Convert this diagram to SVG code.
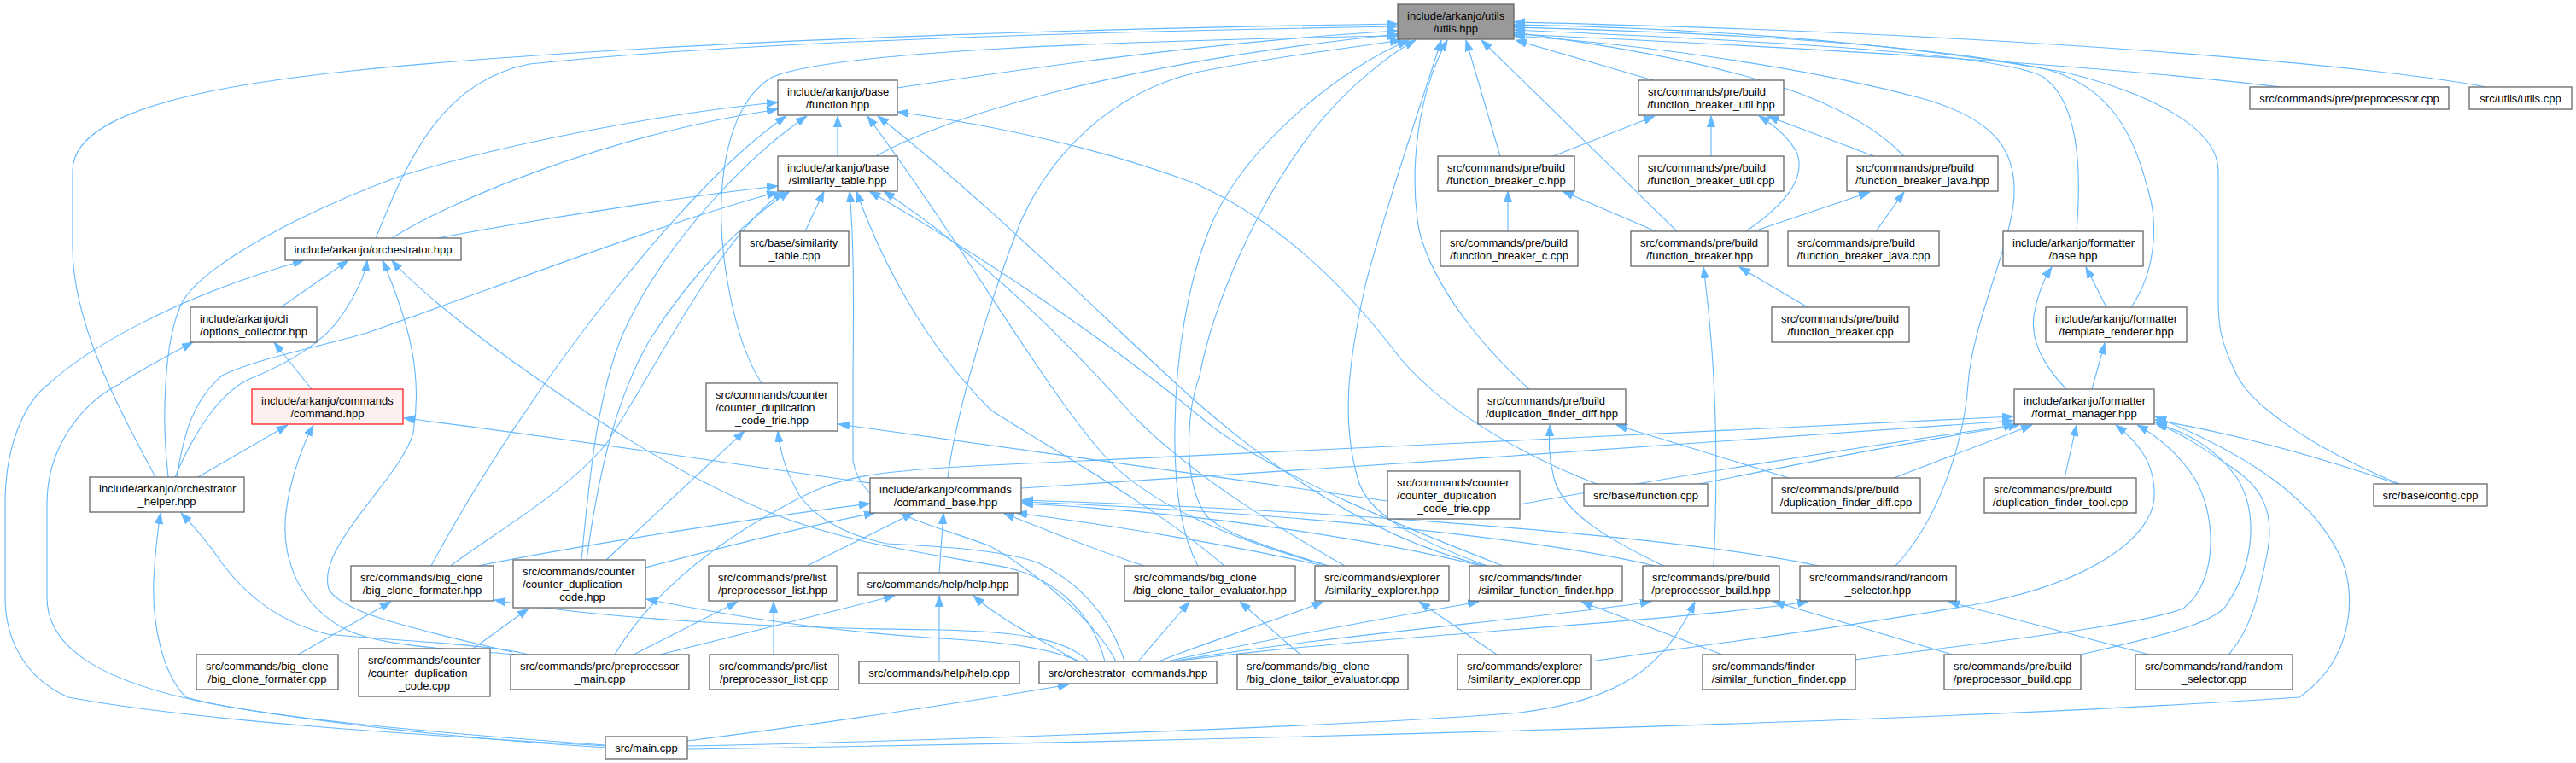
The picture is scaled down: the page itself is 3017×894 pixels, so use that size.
<svg xmlns="http://www.w3.org/2000/svg" width="3017" height="894" viewBox="0 0 3017 894">
<style>
.n rect{fill:#ffffff;stroke:#666666;stroke-width:1.3}
.n.hl rect{fill:#999999}
.n.red rect{fill:#fff0f0;stroke:#ff2020}
.n text{font-family:"Liberation Sans",Arial,Helvetica,sans-serif;font-size:13px;fill:#000000}
.n text.m{text-anchor:middle}
#edges path{fill:none;stroke:#63b8ff;stroke-width:1.1;marker-end:url(#a)}
</style>
<defs>
<marker id="a" markerUnits="userSpaceOnUse" markerWidth="14" markerHeight="10" refX="13" refY="4.7" orient="auto">
<path d="M0,0 L13,4.7 L0,9.4 z" fill="#63b8ff" stroke="#63b8ff" stroke-width="0.8"/>
</marker>
</defs>
<rect x="0" y="0" width="3017" height="894" fill="#ffffff"/>
<g id="edges">
<path d="M1051,103 C1150,88 1400,50 1637,36"/>
<path d="M1026,183 C1100,140 1300,75 1637,40"/>
<path d="M440,279 C480,180 520,95 620,75 C900,45 1400,35 1637,31"/>
<path d="M182,559 C140,480 85,380 85,290 L85,200 C85,110 350,85 600,67 C900,45 1300,33 1637,28"/>
<path d="M892,449 C860,400 842,300 845,233 C848,160 870,110 905,90 C980,60 1300,48 1637,42"/>
<path d="M1110,560 C1120,480 1160,350 1194,263 C1230,180 1300,110 1400,85 C1500,65 1590,55 1641,47"/>
<path d="M1403,663 C1380,620 1375,560 1376,500 C1377,420 1390,330 1420,260 C1460,170 1570,80 1650,47"/>
<path d="M1556,663 C1480,640 1420,620 1410,600 C1385,560 1390,480 1405,440 C1420,360 1470,240 1540,150 C1580,100 1630,62 1658,47"/>
<path d="M1742,663 C1650,630 1600,600 1590,560 C1570,490 1580,420 1600,330 C1630,220 1665,120 1688,47"/>
<path d="M1791,456 C1740,410 1680,340 1662,270 C1650,200 1660,110 1695,47"/>
<path d="M1757,183 L1717,47"/>
<path d="M1964,271 L1735,47"/>
<path d="M1936,94 L1775,47"/>
<path d="M2230,183 C2170,120 2050,75 1773,38"/>
<path d="M2432,271 C2438,200 2435,120 2393,90 C2340,60 2000,45 1773,35"/>
<path d="M2496,360 C2530,310 2525,250 2515,220 C2495,140 2460,100 2400,82 C2250,50 2000,38 1773,32"/>
<path d="M2810,567 C2720,530 2640,480 2620,440 C2600,400 2598,380 2598,350 L2598,200 C2598,150 2520,110 2420,85 C2200,45 1950,32 1773,29"/>
<path d="M2220,663 C2270,610 2300,520 2305,450 C2310,380 2350,300 2358,240 C2365,180 2340,140 2250,115 C2100,75 1900,50 1773,42"/>
<path d="M2672,102 C2450,75 2100,55 1773,40"/>
<path d="M2912,102 C2800,80 2400,40 1773,26"/>
<path d="M197,559 C190,500 190,400 214,353 C240,310 350,250 467,207 C600,165 800,130 911,120"/>
<path d="M459,279 C520,240 700,160 911,128"/>
<path d="M981,183 L981,136"/>
<path d="M505,663 C560,560 640,440 720,340 C800,240 870,170 921,136"/>
<path d="M681,656 C690,560 700,460 730,390 C780,280 880,180 945,136"/>
<path d="M1556,663 C1450,635 1340,590 1290,530 C1220,450 1130,290 1016,136"/>
<path d="M1740,663 C1600,630 1480,540 1400,470 C1300,380 1150,230 1028,136"/>
<path d="M1870,567 C1800,540 1700,490 1640,420 C1580,340 1500,260 1400,215 C1280,170 1150,145 1051,131"/>
<path d="M513,279 C600,262 800,230 911,218"/>
<path d="M207,559 C215,510 225,470 260,440 C300,420 380,405 430,390 C600,330 780,260 911,225"/>
<path d="M205,559 C230,500 260,460 290,445 C340,425 380,400 400,370 C420,340 428,320 430,305"/>
<path d="M687,656 C700,560 720,470 760,400 C810,320 870,260 925,224"/>
<path d="M528,663 C570,630 660,580 710,520 C770,430 840,280 918,224"/>
<path d="M943,271 L965,224"/>
<path d="M1307,775 C1290,740 1230,680 1160,640 C1080,610 1010,600 999,540 L999,440 C1000,350 1000,280 995,224"/>
<path d="M1434,663 C1350,590 1220,520 1160,480 C1080,400 1030,300 1003,224"/>
<path d="M1575,663 C1500,620 1400,560 1330,490 C1250,400 1150,300 1035,224"/>
<path d="M1760,663 C1650,620 1500,560 1420,500 C1300,400 1150,300 1018,224"/>
<path d="M709,874 C500,862 230,845 80,817 C30,795 6,750 6,700 L6,590 C6,520 30,470 57,450 C100,410 200,350 356,305"/>
<path d="M329,360 L408,305"/>
<path d="M600,764 C500,740 400,720 385,690 C370,640 470,560 484,507 C495,440 480,380 448,305"/>
<path d="M1294,775 C1280,720 1240,680 1180,665 C1100,650 1000,640 900,600 C780,550 680,480 600,423 C540,380 480,330 459,305"/>
<path d="M365,456 L321,401"/>
<path d="M709,876 C550,866 380,848 250,825 C120,800 55,760 55,700 L55,590 C55,520 100,470 140,450 C170,430 200,415 226,401"/>
<path d="M232,559 L337,498"/>
<path d="M605,767 C520,760 440,757 400,735 C340,700 330,640 335,600 C340,560 355,520 367,498"/>
<path d="M1019,566 C800,535 600,505 473,490"/>
<path d="M709,873 C500,858 300,840 218,817 C190,790 178,730 180,680 C182,640 185,620 188,601"/>
<path d="M618,767 C580,755 450,750 383,743 C330,730 290,700 260,660 C240,630 225,615 212,601"/>
<path d="M710,656 L872,505"/>
<path d="M1317,775 C1300,720 1260,680 1217,660 C1180,645 1100,640 1039,637 C980,625 950,600 936,580 C925,560 915,540 911,505"/>
<path d="M1625,587 C1400,555 1150,520 982,497"/>
<path d="M560,663 C700,635 900,605 1019,590"/>
<path d="M756,665 C850,640 950,615 1025,601"/>
<path d="M945,663 L1070,601"/>
<path d="M1100,671 L1105,601"/>
<path d="M1340,663 C1270,640 1210,615 1175,601"/>
<path d="M1550,663 C1450,640 1300,615 1190,601"/>
<path d="M1735,663 C1600,630 1400,600 1197,590"/>
<path d="M1938,663 C1800,630 1500,600 1197,588"/>
<path d="M2130,663 C1950,625 1500,595 1197,586"/>
<path d="M349,767 L458,705"/>
<path d="M1275,775 C1250,750 1200,740 1100,738 C900,736 700,725 579,703"/>
<path d="M554,760 L619,713"/>
<path d="M1265,775 C1230,760 1180,752 1100,748 C950,738 850,720 757,702"/>
<path d="M742,767 L864,705"/>
<path d="M906,767 L906,705"/>
<path d="M1100,775 L1100,698"/>
<path d="M773,767 C880,740 980,715 1048,698"/>
<path d="M1262,775 C1220,750 1170,725 1140,698"/>
<path d="M1523,767 L1452,705"/>
<path d="M1333,775 L1393,705"/>
<path d="M1753,767 L1662,705"/>
<path d="M1357,775 C1420,750 1500,725 1550,705"/>
<path d="M2017,767 L1852,705"/>
<path d="M1367,775 C1500,745 1650,720 1732,705"/>
<path d="M2287,767 L2077,705"/>
<path d="M1372,775 C1550,745 1800,725 1934,705"/>
<path d="M805,874 C1100,868 1600,850 1780,835 C1900,820 1950,780 1985,705"/>
<path d="M2517,767 L2282,705"/>
<path d="M1375,775 C1600,745 1950,730 2118,705"/>
<path d="M805,868 C950,850 1150,820 1252,802"/>
<path d="M1948,663 C1880,630 1830,600 1820,560 C1812,530 1815,510 1815,498"/>
<path d="M2095,560 L1893,498"/>
<path d="M2007,663 C2012,560 2012,440 1995,313"/>
<path d="M2117,360 L2037,313"/>
<path d="M1766,271 L1766,224"/>
<path d="M1939,271 L1830,224"/>
<path d="M1819,183 L1938,136"/>
<path d="M2004,183 L2004,136"/>
<path d="M2195,183 L2070,136"/>
<path d="M2045,271 C2090,240 2115,210 2105,180 C2095,160 2075,145 2060,136"/>
<path d="M2197,271 L2230,225"/>
<path d="M2054,271 L2190,225"/>
<path d="M2420,456 C2395,430 2378,400 2382,370 C2386,345 2395,325 2403,313"/>
<path d="M2467,360 L2443,313"/>
<path d="M2450,456 L2465,402"/>
<path d="M720,767 C760,700 830,640 924,590 C980,560 1010,552 1160,545 C1500,530 2100,500 2358,488"/>
<path d="M1196,572 C1500,555 2100,510 2358,493"/>
<path d="M1780,591 C1950,560 2200,520 2360,498"/>
<path d="M1990,567 C2100,545 2250,515 2365,498"/>
<path d="M2218,560 L2380,498"/>
<path d="M2418,560 L2432,498"/>
<path d="M1863,775 C2000,755 2200,730 2330,705 C2450,680 2520,630 2523,583 C2525,540 2500,515 2478,498"/>
<path d="M2173,773 C2300,755 2500,735 2557,713 C2600,680 2595,600 2570,560 C2550,530 2525,510 2503,498"/>
<path d="M2437,767 C2530,745 2600,730 2610,705 C2640,660 2645,600 2620,560 C2595,525 2560,505 2525,497"/>
<path d="M2610,767 C2635,740 2645,700 2655,650 C2665,600 2650,570 2610,545 C2580,525 2555,508 2524,495"/>
<path d="M805,878 C1300,870 2200,850 2693,817 C2760,770 2760,690 2740,650 C2710,590 2650,540 2524,488"/>
<path d="M2808,567 C2700,530 2600,505 2524,492"/>
</g>
<g id="n_utils" class="n hl"><rect x="1637" y="5" width="136" height="41"/><text x="1648" y="22.5">include/arkanjo/utils</text><text class="m" x="1705" y="37.5">/utils.hpp</text></g>
<g id="n_function" class="n"><rect x="911" y="94" width="140" height="41"/><text x="922" y="111.5">include/arkanjo/base</text><text class="m" x="981" y="126.5">/function.hpp</text></g>
<g id="n_simtab" class="n"><rect x="911" y="183" width="140" height="41"/><text x="922" y="200.5">include/arkanjo/base</text><text class="m" x="981" y="215.5">/similarity_table.hpp</text></g>
<g id="n_simtab_cpp" class="n"><rect x="867" y="271" width="127" height="41"/><text x="878" y="288.5">src/base/similarity</text><text class="m" x="930.5" y="303.5">_table.cpp</text></g>
<g id="n_orch" class="n"><rect x="334" y="279" width="206" height="26"/><text class="m" x="437" y="296.5">include/arkanjo/orchestrator.hpp</text></g>
<g id="n_opts" class="n"><rect x="223" y="360" width="148" height="41"/><text x="234" y="377.5">include/arkanjo/cli</text><text class="m" x="297" y="392.5">/options_collector.hpp</text></g>
<g id="n_command" class="n red"><rect x="295" y="456" width="177" height="41"/><text x="306" y="473.5">include/arkanjo/commands</text><text class="m" x="383.5" y="488.5">/command.hpp</text></g>
<g id="n_orch_helper" class="n"><rect x="105" y="559" width="181" height="41"/><text x="116" y="576.5">include/arkanjo/orchestrator</text><text class="m" x="195.5" y="591.5">_helper.hpp</text></g>
<g id="n_bcf_hpp" class="n"><rect x="411" y="663" width="167" height="41"/><text x="422" y="680.5">src/commands/big_clone</text><text class="m" x="494.5" y="695.5">/big_clone_formater.hpp</text></g>
<g id="n_bcf_cpp" class="n"><rect x="230" y="767" width="166" height="41"/><text x="241" y="784.5">src/commands/big_clone</text><text class="m" x="313" y="799.5">/big_clone_formater.cpp</text></g>
<g id="n_cdc_cpp" class="n"><rect x="420" y="760" width="154" height="56"/><text x="431" y="777.5">src/commands/counter</text><text x="431" y="792.5">/counter_duplication</text><text class="m" x="497" y="807.5">_code.cpp</text></g>
<g id="n_trie_hpp" class="n"><rect x="827" y="449" width="154" height="56"/><text x="838" y="466.5">src/commands/counter</text><text x="838" y="481.5">/counter_duplication</text><text class="m" x="904" y="496.5">_code_trie.hpp</text></g>
<g id="n_cmdbase" class="n"><rect x="1019" y="560" width="177" height="41"/><text x="1030" y="577.5">include/arkanjo/commands</text><text class="m" x="1107.5" y="592.5">/command_base.hpp</text></g>
<g id="n_cdc_hpp" class="n"><rect x="601" y="656" width="155" height="56"/><text x="612" y="673.5">src/commands/counter</text><text x="612" y="688.5">/counter_duplication</text><text class="m" x="678.5" y="703.5">_code.hpp</text></g>
<g id="n_plist_hpp" class="n"><rect x="830" y="663" width="150" height="41"/><text x="841" y="680.5">src/commands/pre/list</text><text class="m" x="905" y="695.5">/preprocessor_list.hpp</text></g>
<g id="n_help_hpp" class="n"><rect x="1005" y="671" width="187" height="26"/><text class="m" x="1098.5" y="688.5">src/commands/help/help.hpp</text></g>
<g id="n_pmain_cpp" class="n"><rect x="598" y="767" width="209" height="41"/><text x="609" y="784.5">src/commands/pre/preprocessor</text><text class="m" x="702.5" y="799.5">_main.cpp</text></g>
<g id="n_plist_cpp" class="n"><rect x="831" y="767" width="151" height="41"/><text x="842" y="784.5">src/commands/pre/list</text><text class="m" x="906.5" y="799.5">/preprocessor_list.cpp</text></g>
<g id="n_help_cpp" class="n"><rect x="1006" y="775" width="188" height="26"/><text class="m" x="1100" y="792.5">src/commands/help/help.cpp</text></g>
<g id="n_main_cpp" class="n"><rect x="709" y="863" width="96" height="26"/><text class="m" x="757" y="880.5">src/main.cpp</text></g>
<g id="n_fb_c_hpp" class="n"><rect x="1684" y="183" width="160" height="41"/><text x="1695" y="200.5">src/commands/pre/build</text><text class="m" x="1764" y="215.5">/function_breaker_c.hpp</text></g>
<g id="n_fb_c_cpp" class="n"><rect x="1687" y="271" width="161" height="41"/><text x="1698" y="288.5">src/commands/pre/build</text><text class="m" x="1767.5" y="303.5">/function_breaker_c.cpp</text></g>
<g id="n_dfd_hpp" class="n"><rect x="1731" y="456" width="173" height="41"/><text x="1742" y="473.5">src/commands/pre/build</text><text class="m" x="1817.5" y="488.5">/duplication_finder_diff.hpp</text></g>
<g id="n_trie_cpp" class="n"><rect x="1625" y="552" width="155" height="56"/><text x="1636" y="569.5">src/commands/counter</text><text x="1636" y="584.5">/counter_duplication</text><text class="m" x="1702.5" y="599.5">_code_trie.cpp</text></g>
<g id="n_bcte_hpp" class="n"><rect x="1317" y="663" width="200" height="41"/><text x="1328" y="680.5">src/commands/big_clone</text><text class="m" x="1417" y="695.5">/big_clone_tailor_evaluator.hpp</text></g>
<g id="n_simexp_hpp" class="n"><rect x="1540" y="663" width="157" height="41"/><text x="1551" y="680.5">src/commands/explorer</text><text class="m" x="1618.5" y="695.5">/similarity_explorer.hpp</text></g>
<g id="n_sff_hpp" class="n"><rect x="1721" y="663" width="179" height="41"/><text x="1732" y="680.5">src/commands/finder</text><text class="m" x="1810.5" y="695.5">/similar_function_finder.hpp</text></g>
<g id="n_orch_cmds" class="n"><rect x="1217" y="775" width="208" height="26"/><text class="m" x="1321" y="792.5">src/orchestrator_commands.hpp</text></g>
<g id="n_bcte_cpp" class="n"><rect x="1449" y="767" width="200" height="41"/><text x="1460" y="784.5">src/commands/big_clone</text><text class="m" x="1549" y="799.5">/big_clone_tailor_evaluator.cpp</text></g>
<g id="n_simexp_cpp" class="n"><rect x="1707" y="767" width="156" height="41"/><text x="1718" y="784.5">src/commands/explorer</text><text class="m" x="1785" y="799.5">/similarity_explorer.cpp</text></g>
<g id="n_fbu_hpp" class="n"><rect x="1919" y="94" width="170" height="41"/><text x="1930" y="111.5">src/commands/pre/build</text><text class="m" x="2004" y="126.5">/function_breaker_util.hpp</text></g>
<g id="n_fbu_cpp" class="n"><rect x="1919" y="183" width="170" height="41"/><text x="1930" y="200.5">src/commands/pre/build</text><text class="m" x="2004" y="215.5">/function_breaker_util.cpp</text></g>
<g id="n_fbj_hpp" class="n"><rect x="2163" y="183" width="177" height="41"/><text x="2174" y="200.5">src/commands/pre/build</text><text class="m" x="2251.5" y="215.5">/function_breaker_java.hpp</text></g>
<g id="n_fb_hpp" class="n"><rect x="1910" y="271" width="161" height="41"/><text x="1921" y="288.5">src/commands/pre/build</text><text class="m" x="1990.5" y="303.5">/function_breaker.hpp</text></g>
<g id="n_fbj_cpp" class="n"><rect x="2094" y="271" width="177" height="41"/><text x="2105" y="288.5">src/commands/pre/build</text><text class="m" x="2182.5" y="303.5">/function_breaker_java.cpp</text></g>
<g id="n_fb_cpp" class="n"><rect x="2075" y="360" width="161" height="41"/><text x="2086" y="377.5">src/commands/pre/build</text><text class="m" x="2155.5" y="392.5">/function_breaker.cpp</text></g>
<g id="n_fmt_base" class="n"><rect x="2346" y="271" width="164" height="41"/><text x="2357" y="288.5">include/arkanjo/formatter</text><text class="m" x="2428" y="303.5">/base.hpp</text></g>
<g id="n_base_func_cpp" class="n"><rect x="1855" y="567" width="145" height="26"/><text class="m" x="1927.5" y="584.5">src/base/function.cpp</text></g>
<g id="n_dfd_cpp" class="n"><rect x="2075" y="560" width="174" height="41"/><text x="2086" y="577.5">src/commands/pre/build</text><text class="m" x="2162" y="592.5">/duplication_finder_diff.cpp</text></g>
<g id="n_dft_cpp" class="n"><rect x="2324" y="560" width="178" height="41"/><text x="2335" y="577.5">src/commands/pre/build</text><text class="m" x="2413" y="592.5">/duplication_finder_tool.cpp</text></g>
<g id="n_fmt_mgr" class="n"><rect x="2359" y="456" width="164" height="41"/><text x="2370" y="473.5">include/arkanjo/formatter</text><text class="m" x="2441" y="488.5">/format_manager.hpp</text></g>
<g id="n_pbuild_hpp" class="n"><rect x="1924" y="663" width="160" height="41"/><text x="1935" y="680.5">src/commands/pre/build</text><text class="m" x="2004" y="695.5">/preprocessor_build.hpp</text></g>
<g id="n_rand_hpp" class="n"><rect x="2108" y="663" width="183" height="41"/><text x="2119" y="680.5">src/commands/rand/random</text><text class="m" x="2199.5" y="695.5">_selector.hpp</text></g>
<g id="n_sff_cpp" class="n"><rect x="1994" y="767" width="179" height="41"/><text x="2005" y="784.5">src/commands/finder</text><text class="m" x="2083.5" y="799.5">/similar_function_finder.cpp</text></g>
<g id="n_pbuild_cpp" class="n"><rect x="2277" y="767" width="160" height="41"/><text x="2288" y="784.5">src/commands/pre/build</text><text class="m" x="2357" y="799.5">/preprocessor_build.cpp</text></g>
<g id="n_pre_cpp" class="n"><rect x="2635" y="102" width="233" height="26"/><text class="m" x="2751.5" y="119.5">src/commands/pre/preprocessor.cpp</text></g>
<g id="n_tmpl" class="n"><rect x="2396" y="360" width="165" height="41"/><text x="2407" y="377.5">include/arkanjo/formatter</text><text class="m" x="2478.5" y="392.5">/template_renderer.hpp</text></g>
<g id="n_rand_cpp" class="n"><rect x="2501" y="767" width="184" height="41"/><text x="2512" y="784.5">src/commands/rand/random</text><text class="m" x="2593" y="799.5">_selector.cpp</text></g>
<g id="n_utils_cpp" class="n"><rect x="2892" y="102" width="120" height="26"/><text class="m" x="2952" y="119.5">src/utils/utils.cpp</text></g>
<g id="n_config_cpp" class="n"><rect x="2780" y="567" width="133" height="26"/><text class="m" x="2846.5" y="584.5">src/base/config.cpp</text></g>
</svg>
